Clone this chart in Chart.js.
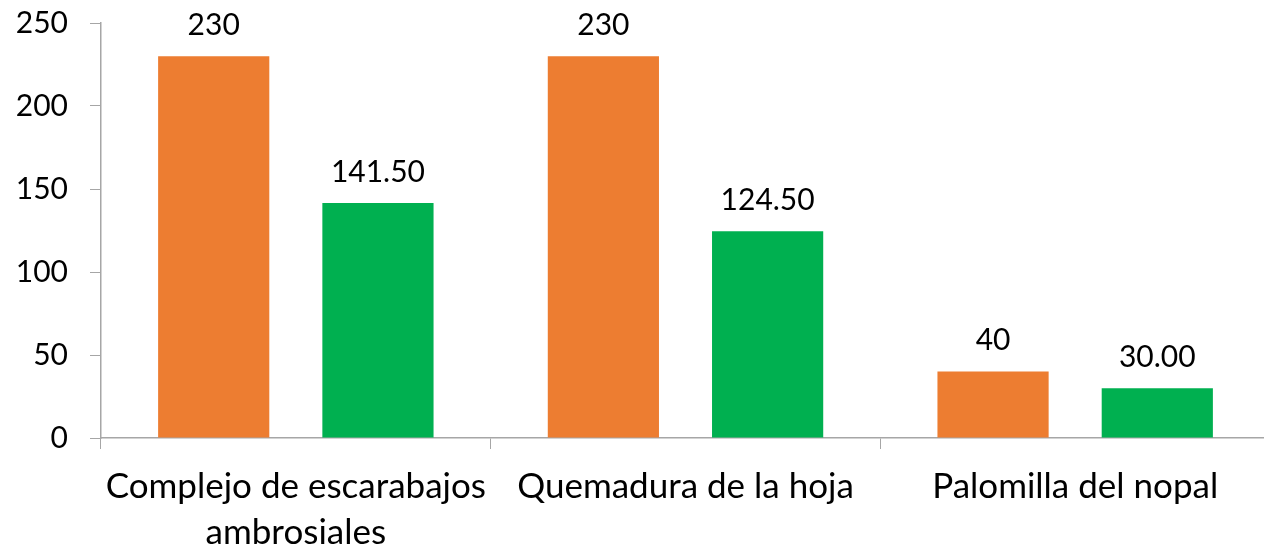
<!DOCTYPE html>
<html>
<head>
<meta charset="utf-8">
<script src="https://cdn.jsdelivr.net/npm/chart.js@4.4.1/dist/chart.umd.min.js"></script>
<style>
  html, body { margin: 0; padding: 0; background: #fff; overflow: hidden; }
  #wrap { width: 1270px; height: 568px; margin-top: -17px; }
</style>
</head>
<body>
<div id="wrap"><canvas id="plagasChart"></canvas></div>
<script>
// Datos
var categorias = [['Complejo de escarabajos', 'ambrosiales'], 'Quemadura de la hoja', 'Palomilla del nopal'];
var serieNaranja = [230, 230, 40];
var serieVerde = [141.5, 124.5, 30];
var decimalesNaranja = 0;
var decimalesVerde = 2;

// Etiquetas encima de cada barra
var etiquetasBarras = {
    id: 'etiquetasBarras',
    afterDatasetsDraw: function(chart) {
        var ctx = chart.ctx;
        ctx.save();
        ctx.font = '30px Lato';
        ctx.fillStyle = '#000';
        ctx.textAlign = 'center';
        ctx.textBaseline = 'bottom';
        chart.data.datasets.forEach(function(ds, i) {
            chart.getDatasetMeta(i).data.forEach(function(bar, j) {
                ctx.fillText(ds.data[j].toFixed(ds.decimales), bar.x, bar.y - 16);
            });
        });
        ctx.restore();
    }
};

var ctxPlagas = document.getElementById('plagasChart').getContext('2d');
var plagasChart = new Chart(ctxPlagas, {
    type: 'bar',
    data: {
        labels: categorias,
        datasets: [{
            label: 'Serie 1',
            data: serieNaranja,
            decimales: decimalesNaranja,
            backgroundColor: '#ED7D31',
            barPercentage: 0.677,
            categoryPercentage: 0.843
        }, {
            label: 'Serie 2',
            data: serieVerde,
            decimales: decimalesVerde,
            backgroundColor: '#00B050',
            barPercentage: 0.677,
            categoryPercentage: 0.843
        }]
    },
    options: {
        responsive: true,
        maintainAspectRatio: false,
        animation: false,
        layout: { padding: 0 },
        plugins: {
            legend: { display: false },
            tooltip: { enabled: false }
        },
        scales: {
            x: {
                grid: { display: true, drawOnChartArea: false, tickLength: 11, color: '#A6A6A6', offset: true },
                border: { color: '#A6A6A6', width: 1.5 },
                ticks: { color: '#000', font: { family: 'Lato', size: 35, lineHeight: 1.3 }, padding: 15, maxRotation: 0, autoSkip: false },
                afterFit: function(scale) { scale.height = 113; }
            },
            y: {
                min: 0,
                max: 250,
                ticks: { stepSize: 50, color: '#000', font: { family: 'Lato', size: 30 }, padding: 22 },
                grid: { display: true, drawOnChartArea: false, tickLength: 11, color: '#A6A6A6' },
                border: { color: '#A6A6A6', width: 1.5 },
                afterFit: function(scale) { scale.width = 101; }
            }
        }
    },
    plugins: [etiquetasBarras]
});
</script>
</body>
</html>
